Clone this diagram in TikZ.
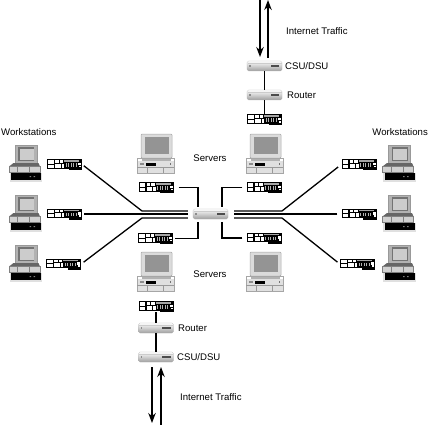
\documentclass[tikz,border=0pt]{standalone}
\usepackage{fontspec}
\setmainfont{Liberation Sans}
\usetikzlibrary{arrows.meta}

\tikzset{
  link/.style={line width=1.3pt},
  traffic/.style={line width=1.4pt, -{Stealth[length=10pt,width=7.5pt]}},
  lbl/.style={font=\fontsize{9.6}{11}\selectfont, inner sep=0pt},
  cardnode/.style={minimum width=35pt, minimum height=11pt, inner sep=0pt},
  hubnode/.style={minimum width=35pt, minimum height=10pt, inner sep=0pt},
  servernode/.style={minimum width=37pt, minimum height=39pt, inner sep=0pt},
  stationnode/.style={minimum width=33pt, minimum height=37pt, inner sep=0pt},
  % patch panel
  cardface/.pic={
    \fill[black] (-17.5,-5.5) rectangle (15.5,4);
    \fill[black] (4,3) rectangle (17.5,5.5);
    \fill[black] (15,-5.5) rectangle (17.5,3);
    \fill[white] (-16.5,-4.5) rectangle (-11,-1);
    \fill[white] (-16.5,0) rectangle (-11,3);
    \fill[white] (-9.5,-4.5) rectangle (-6,-2);
    \fill[white] (-9.5,-1) rectangle (-4,3);
    \fill[white] (-5,-4.5) rectangle (-1.5,-2);
    \fill[white] (-3,-1) rectangle (-0.5,3);
    \fill[black!35] (-0.5,-4.5) rectangle (14.5,-2.6);
    \foreach \dotx in {1,3.5,6,8.5,11}
      \fill[black!30] (\dotx,-1.5) rectangle ++(1.3,3.5);
    \fill[white] (13.5,-2) rectangle (16.5,0.5);
    \fill[white] (14.8,1.2) rectangle (16.5,2.8);
  },
  % hub or router box
  hubface/.pic={
    \shade[top color=white, bottom color=black!38, draw=black!30, line width=0.3pt, rounded corners=1.5pt]
      (-17.5,-5) rectangle (17.5,5);
    \draw[black!20, line width=0.3pt] (-17,-2.5) -- (17,-2.5);
    \fill[black!70] (6,-0.7) rectangle (14.5,0.6);
    \fill[black!45] (-15.5,-0.6) rectangle (-14,0.6);
  },
  % server, monitor on a desktop case
  serverface/.pic={
    \fill[black!14] (-14.5,-19.5) rectangle (16.5,4.5);
    \draw[black!35, line width=0.5pt, rounded corners=1pt] (-14.5,-19.5) rectangle (16.5,4.5);
    \fill[black!42] (-10.5,-16.5) rectangle (13.5,0.5);
    \fill[black!30] (-14,4.5) rectangle (15,7);
    \fill[black!12] (-18.5,7) rectangle (18.5,19.5);
    \draw[black!35, line width=0.5pt] (-18.5,5) rectangle (18.5,19.5);
    \draw[black!40, line width=0.4pt] (-18.5,14) -- (18.5,14) (-8,14) -- (-8,19.5) (8,14) -- (8,19.5);
    \fill[black] (-9.5,9.5) rectangle (0.5,12);
    \fill[black!45] (-16,9.5) rectangle (-12,11.5);
    \fill[black!55] (14,9) rectangle (15.5,11);
  },
  % workstation, monitor, case and keyboard
  stationface/.pic={
    \fill[black!30] (-10.5,-18.5) rectangle (11.5,0);
    \draw[black!40, line width=0.4pt] (-10.5,-18.5) rectangle (11.5,0);
    \fill[black!55] (-7.5,-16.5) rectangle (8.5,-2.5);
    \fill[black!20] (-6,-15) rectangle (8,-3.5);
    \fill[black!60] (-12,-0.5) -- (13,-0.5) -- (14.5,3) -- (-16.5,3) -- cycle;
    \fill[black!18] (-16.5,3) rectangle (14.5,9);
    \draw[black!50, line width=0.4pt] (-16.5,3) rectangle (14.5,9) (-8,3) -- (-8,9) (4,3) -- (4,9);
    \fill[black!12] (-16,9) rectangle (16.5,18.5);
    \fill[black] (-14.5,9.5) rectangle (15.5,16.5);
    \fill[black!50] (4,12.5) rectangle (5.5,13.5) (8,12.5) rectangle (9.5,13.5);
  }
}

\begin{document}
\begin{tikzpicture}[x=1pt, y=-1pt]
  \useasboundingbox (0,0) rectangle (428,425);

  % Patch panels
  \foreach \name/\x/\y in {cardTop/264.5/120, cardBottom/156/306.5, cardSrvUL/156/187.5, cardSrvUR/264/187.5,
      cardSrvLL/155.5/238.5, cardSrvLR/264/238, cardWkL1/64.5/164.5, cardWkL2/64.5/214, cardWkL3/63.5/264,
      cardWkR1/359/164.5, cardWkR2/359/214, cardWkR3/357.5/264} {
    \node[cardnode] (\name) at (\x,\y) {};
    \pic at (\name) {cardface};
  }

  % Boxes
  \foreach \name/\x/\y in {hub/210.5/214, csuTop/264.5/66, routerTop/264.5/95, routerBottom/156/328, csuBottom/156/357} {
    \node[hubnode] (\name) at (\x,\y) {};
    \pic at (\name) {hubface};
  }

  % Servers
  \foreach \name/\x/\y in {srvUL/155.5/153.5, srvUR/264.5/153.5, srvLL/155.5/271.5, srvLR/264.5/271.5} {
    \node[servernode] (\name) at (\x,\y) {};
    \pic at (\name) {serverface};
  }

  % Workstations
  \foreach \name/\x/\y in {wkL1/25.5/163.5, wkL2/25.5/213.5, wkL3/25.5/263.5, wkR1/399/163.5, wkR2/399/213.5, wkR3/399/263.5} {
    \node[stationnode] (\name) at (\x,\y) {};
    \pic at (\name) {stationface};
  }

  % Top uplink
  \draw[link] (csuTop) -- (routerTop);
  \draw[link] (routerTop) -- (cardTop);

  % Bottom uplink
  \draw[link] (cardBottom) -- (routerBottom);
  \draw[link] (routerBottom) -- (csuBottom);

  % Servers to hub
  \coordinate (hubUL) at (198,209);
  \coordinate (hubUR) at (222,209);
  \coordinate (hubLL) at (198,219);
  \coordinate (hubLR) at (222,219);
  \draw[link, shorten <=5pt, shorten >=2pt] (cardSrvUL.east) -| (hubUL);
  \draw[link, shorten <=4pt, shorten >=2pt] (cardSrvUR.west) -| (hubUR);
  \draw[link, shorten <=2pt, shorten >=3pt] (cardSrvLL.east) -| (hubLL);
  \draw[link, shorten <=4pt, shorten >=3pt] (cardSrvLR.west) -| (hubLR);

  % Workstations to hub
  \coordinate (bendL1) at (142,211);
  \coordinate (bendL3) at (142,218);
  \coordinate (bendR1) at (282,211);
  \coordinate (bendR3) at (282,218);
  \draw[link, shorten <=2pt, shorten >=5pt] (cardWkL1.east) -- (bendL1) -- (bendL1 -| hub.west);
  \draw[link, shorten <=2pt, shorten >=5pt] (cardWkL2.east) -- (hub.west);
  \draw[link, shorten <=3pt, shorten >=5pt] (cardWkL3.east) -- (bendL3) -- (bendL3 -| hub.west);
  \draw[link, shorten <=4pt, shorten >=6pt] (cardWkR1.west) -- (bendR1) -- (bendR1 -| hub.east);
  \draw[link, shorten <=4pt, shorten >=6pt] (cardWkR2.west) -- (hub.east);
  \draw[link, shorten <=3pt, shorten >=6pt] (cardWkR3.west) -- (bendR3) -- (bendR3 -| hub.east);

  % Internet traffic arrows
  \coordinate (topDownIn) at (260,0);
  \coordinate (topDownOut) at (260,57);
  \coordinate (topUpIn) at (268,58);
  \coordinate (topUpOut) at (268,0);
  \coordinate (botDownIn) at (152,367);
  \coordinate (botDownOut) at (152,423);
  \coordinate (botUpIn) at (161,425);
  \coordinate (botUpOut) at (161,367);
  \draw[traffic] (topDownIn) -- (topDownOut);
  \draw[traffic] (topUpIn) -- (topUpOut);
  \draw[traffic] (botDownIn) -- (botDownOut);
  \draw[traffic] (botUpIn) -- (botUpOut);

  % Labels
  \node[lbl, anchor=west] (lblTraffTop) at (286,31) {Internet Traffic};
  \node[lbl, anchor=west] (lblCsuTop) at (285,66) {CSU/DSU};
  \node[lbl, anchor=west] (lblRouterTop) at (287,95) {Router};
  \node[lbl, anchor=west] (lblRouterBot) at (178,328) {Router};
  \node[lbl, anchor=west] (lblCsuBot) at (177,357) {CSU/DSU};
  \node[lbl, anchor=west] (lblTraffBot) at (180,397) {Internet Traffic};
  \node[lbl] (lblSrvUp) at (210,158) {Servers};
  \node[lbl] (lblSrvLow) at (210,274) {Servers};
  \node[lbl, anchor=west] (lblWkL) at (1,132) {Workstations};
  \node[lbl, anchor=east] (lblWkR) at (428,132) {Workstations};

\end{tikzpicture}
\end{document}
